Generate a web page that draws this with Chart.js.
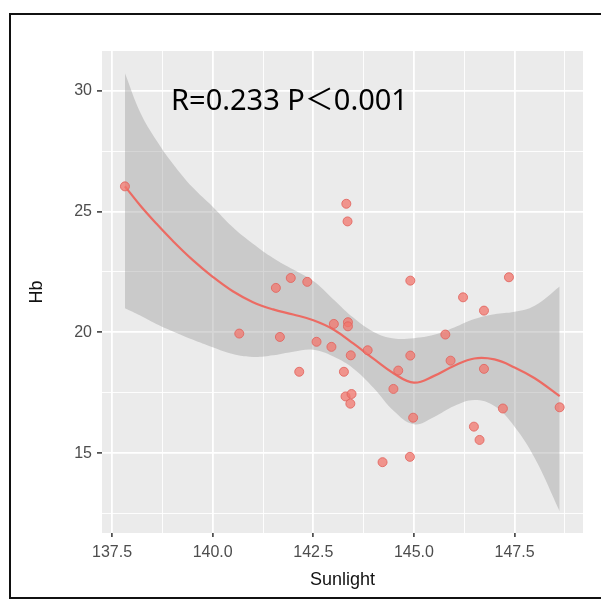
<!DOCTYPE html>
<html>
<head>
<meta charset="utf-8">
<script src="https://cdn.jsdelivr.net/npm/chart.js@4.4.1/dist/chart.umd.min.js"></script>
<style>
html,body{margin:0;padding:0;background:#fff;}
#wrap{width:601px;height:600px;position:relative;}
canvas{display:block;}
</style>
</head>
<body>
<div id="wrap"><canvas id="c" width="601" height="600"></canvas></div>
<script>
// ---- data ----
const sunlight = [137.82, 140.66, 141.57, 141.67, 141.94, 142.15, 142.35, 142.58, 142.95, 143.01,
                  143.26, 143.32, 143.35, 143.36, 143.36, 143.43, 143.85, 143.30, 143.45, 143.42,
                  144.22, 144.49, 144.61, 144.90, 144.91, 144.91, 144.98, 145.78, 145.91, 146.22,
                  146.49, 146.63, 146.74, 146.74, 147.21, 147.36, 148.62];
const hb = [26.04, 19.95, 21.84, 19.81, 22.25, 18.37, 22.09, 19.61, 19.40, 20.35,
            18.37, 25.32, 24.59, 20.42, 20.25, 19.05, 19.26, 17.35, 17.45, 17.05,
            14.63, 17.66, 18.42, 14.85, 22.14, 19.04, 16.47, 19.91, 18.83, 21.45,
            16.10, 15.55, 20.90, 18.49, 16.85, 22.28, 16.90];

const smoothX     = [137.82, 138.2, 138.6, 139.0, 139.5, 140.0, 140.5, 141.0, 141.5, 142.0, 142.5, 143.0,
                     143.5, 144.0, 144.5, 145.0, 145.5, 146.0, 146.5, 147.0, 147.5, 148.0, 148.62];
const smoothFit   = [26.04, 25.25, 24.5, 23.8, 23.0, 22.3, 21.7, 21.25, 20.95, 20.74, 20.5, 20.12,
                     19.53, 18.9, 18.3, 17.92, 18.2, 18.62, 18.92, 18.88, 18.55, 18.1, 17.36];
const smoothUpper = [30.72, 29.1, 27.95, 27.0, 26.0, 25.2, 24.35, 23.67, 23.08, 22.6, 22.12, 21.36,
                     20.6, 20.02, 19.75, 19.76, 19.9, 20.2, 20.55, 20.75, 20.85, 21.1, 21.9];
const smoothLower = [21.0, 20.7, 20.35, 20.05, 19.7, 19.38, 19.1, 18.98, 19.05, 19.2, 19.28, 19.0,
                     18.5, 17.7, 16.75, 16.2, 16.5, 16.95, 17.2, 16.95, 16.1, 14.8, 12.6];

const xTicks = [137.5, 138.75, 140.0, 141.25, 142.5, 143.75, 145.0, 146.25, 147.5, 148.75];
const yTicks = [12.5, 15, 17.5, 20, 22.5, 25, 27.5, 30];
const xMajor = [137.5, 140.0, 142.5, 145.0, 147.5];
const yMajor = [15, 20, 25, 30];
const annotationText = 'R=0.233 P\uFF1C0.001';
const xTitle = 'Sunlight';
const yTitle = 'Hb';

// ---- build ----
const pts = sunlight.map((x, i) => ({x: x, y: hb[i]}));
const fitPts = smoothX.map((x, i) => ({x: x, y: smoothFit[i]}));
const upPts = smoothX.map((x, i) => ({x: x, y: smoothUpper[i]}));
const loPts = smoothX.map((x, i) => ({x: x, y: smoothLower[i]}));

const isMaj = (arr, v) => arr.some(m => Math.abs(m - v) < 1e-6);

const bgPlugin = {
  id: 'bg',
  beforeDraw(chart) {
    const {ctx, chartArea: a} = chart;
    ctx.save();
    ctx.fillStyle = '#ffffff';
    ctx.fillRect(0, 0, chart.width, chart.height);
    ctx.fillStyle = '#EBEBEB';
    ctx.fillRect(a.left, a.top, a.right - a.left, a.bottom - a.top);
    ctx.restore();
  },
  afterDraw(chart) {
    const {ctx} = chart;
    ctx.save();
    ctx.fillStyle = '#000';
    ctx.font = '29px "Noto Sans", "Noto Sans CJK SC", sans-serif';
    ctx.textBaseline = 'alphabetic';
    ctx.textAlign = 'left';
    ctx.fillText(annotationText, 171, 110);
    ctx.strokeStyle = '#111';
    ctx.lineWidth = 2;
    ctx.strokeRect(10, 14, 600, 584);
    ctx.restore();
  }
};

const tickFont = {family: '"Liberation Sans", Arial, sans-serif', size: 16};
const titleFont = {family: '"Liberation Sans", Arial, sans-serif', size: 18};
const smooth = {tension: 0.4, cubicInterpolationMode: 'default'};

new Chart(document.getElementById('c'), {
  type: 'scatter',
  data: {
    datasets: [
      {
        label: 'points', data: pts, order: 0,
        pointRadius: 4.5, pointHoverRadius: 4.5,
        backgroundColor: 'rgba(242,118,108,0.75)',
        borderColor: 'rgba(226,100,94,0.85)', borderWidth: 1
      },
      Object.assign({
        label: 'fit', data: fitPts, order: 1, showLine: true,
        pointRadius: 0, borderColor: '#EC6B63', borderWidth: 2.2, fill: false
      }, smooth),
      Object.assign({
        label: 'lower', data: loPts, order: 3, showLine: true,
        pointRadius: 0, borderWidth: 0, borderColor: 'rgba(0,0,0,0)', fill: false
      }, smooth),
      Object.assign({
        label: 'upper', data: upPts, order: 2, showLine: true,
        pointRadius: 0, borderWidth: 0, borderColor: 'rgba(0,0,0,0)',
        fill: '-1', backgroundColor: 'rgba(153,153,153,0.4)'
      }, smooth)
    ]
  },
  options: {
    responsive: false,
    animation: false,
    devicePixelRatio: 1,
    layout: {padding: {left: 0, right: 18, top: 51, bottom: 0}},
    plugins: {legend: {display: false}, tooltip: {enabled: false}},
    scales: {
      x: {
        type: 'linear', min: 137.25, max: 149.2,
        afterBuildTicks: s => { s.ticks = xTicks.map(v => ({value: v})); },
        afterFit: s => { s.height = 67; },
        ticks: {
          autoSkip: false, maxRotation: 0, minRotation: 0,
          color: '#4D4D4D', font: tickFont, padding: 6,
          callback: v => isMaj(xMajor, v) ? v.toFixed(1) : ''
        },
        grid: {
          color: '#ffffff',
          lineWidth: c => (c.tick && isMaj(xMajor, c.tick.value)) ? 1.8 : 0.9,
          drawTicks: true, tickLength: 4, tickWidth: 1.5,
          tickColor: c => (c.tick && isMaj(xMajor, c.tick.value)) ? '#333333' : 'rgba(0,0,0,0)'
        },
        border: {display: false},
        title: {display: true, text: xTitle, color: '#111', font: titleFont, padding: {top: 0, bottom: 9}}
      },
      y: {
        type: 'linear', min: 11.7, max: 31.64,
        afterBuildTicks: s => { s.ticks = yTicks.map(v => ({value: v})); },
        afterFit: s => { s.width = 102; },
        ticks: {
          autoSkip: false, color: '#4D4D4D', font: tickFont, padding: 5,
          callback: v => isMaj(yMajor, v) ? String(v) : ''
        },
        grid: {
          color: '#ffffff',
          lineWidth: c => (c.tick && isMaj(yMajor, c.tick.value)) ? 1.8 : 0.9,
          drawTicks: true, tickLength: 5, tickWidth: 1.5,
          tickColor: c => (c.tick && isMaj(yMajor, c.tick.value)) ? '#333333' : 'rgba(0,0,0,0)'
        },
        border: {display: false},
        title: {display: true, text: yTitle, color: '#111', font: titleFont, padding: {top: 26, bottom: 0}}
      }
    }
  },
  plugins: [bgPlugin]
});
</script>
</body>
</html>
